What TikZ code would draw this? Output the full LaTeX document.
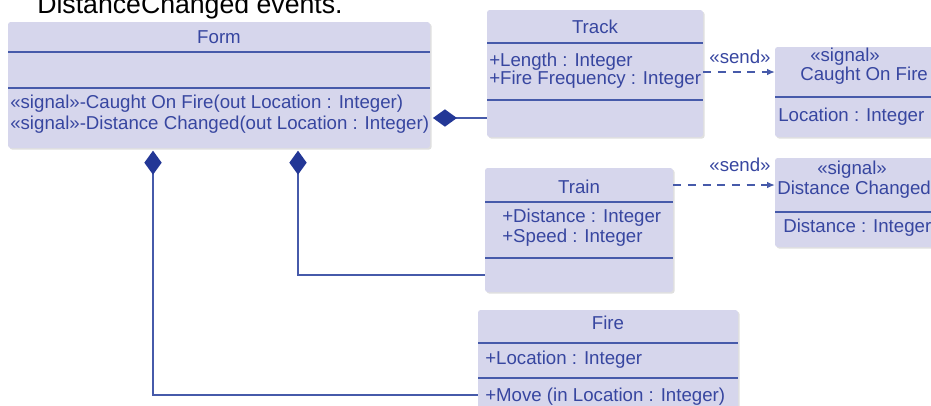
\documentclass[tikz,border=0pt]{standalone}
\usepackage{fontspec}
\setmainfont{Liberation Sans}
\usetikzlibrary{arrows.meta,fit,shadows}
\definecolor{umlfill}{RGB}{214,214,236}
\definecolor{umlline}{RGB}{70,90,170}
\definecolor{umltext}{RGB}{55,70,160}
\definecolor{umldark}{RGB}{35,55,150}

\begin{document}
\begin{tikzpicture}[x=0.75pt,y=-0.75pt,
  classbox/.style={fill=umlfill,rounded corners=2pt,inner sep=0pt,
    drop shadow={shadow xshift=1.2pt,shadow yshift=-1.2pt,opacity=0.25}},
  sep/.style={umlline,line width=1.7pt},
  txt/.style={text=umltext,font=\fontsize{14}{16}\selectfont,inner sep=0pt},
  comp/.style={umlline,line width=1.8pt,shorten <=2pt,
    {Diamond[length=18pt,width=13pt,color=umldark,fill=umldark]}-},
  send/.style={umlline,line width=1.4pt,dash pattern=on 6pt off 5pt,
    -{Latex[length=6pt,width=5pt]}}]
\useasboundingbox (0,0) rectangle (931,405);

% caption cut by the page edge
\node[anchor=base west,font=\fontsize{20}{24}\selectfont,inner sep=0pt] (caption) at (37,13) {DistanceChanged events.};

% Form
\node[classbox,fit={(8,22) (430,148)}] (form) {};
\draw[sep] (8,52) -- (430,52);
\draw[sep] (8,88) -- (430,88);
\node[txt] (form-name) at (219,37) {Form};
\node[txt,anchor=west] (form-op1) at (10,104) {«signal»-Caught On Fire(out Location : Integer)};
\node[txt,anchor=west] (form-op2) at (10,125) {«signal»-Distance Changed(out Location : Integer)};

% Track
\node[classbox,fit={(487,10) (703,137)}] (track) {};
\draw[sep] (487,43) -- (703,43);
\draw[sep] (487,100) -- (703,100);
\node[txt] (track-name) at (595,27) {Track};
\node[txt,anchor=west] (track-at1) at (489,62) {+Length : Integer};
\node[txt,anchor=west] (track-at2) at (489,80) {+Fire Frequency : Integer};

% signal: Caught On Fire
\node[classbox,fit={(775,47) (960,137)}] (caught) {};
\draw[sep] (775,97) -- (960,97);
\node[txt,anchor=west] (caught-st) at (810,57) {«signal»};
\node[txt,anchor=west] (caught-name) at (800,76) {Caught On Fire};
\node[txt,anchor=west] (caught-at) at (778,117) {Location : Integer};

% Train
\node[classbox,fit={(485,168) (673,292)}] (train) {};
\draw[sep] (485,202) -- (673,202);
\draw[sep] (485,258) -- (673,258);
\node[txt] (train-name) at (579,187) {Train};
\node[txt,anchor=west] (train-at1) at (502,218) {+Distance : Integer};
\node[txt,anchor=west] (train-at2) at (502,238) {+Speed : Integer};

% signal: Distance Changed
\node[classbox,fit={(775,158) (960,247)}] (distchg) {};
\draw[sep] (775,212) -- (960,212);
\node[txt,anchor=west] (distchg-st) at (817,170) {«signal»};
\node[txt,anchor=west] (distchg-name) at (777,190) {Distance Changed};
\node[txt,anchor=west] (distchg-at) at (783,228) {Distance : Integer};

% Fire
\node[classbox,fit={(478,310) (738,420)}] (fire) {};
\draw[sep] (478,343) -- (738,343);
\draw[sep] (478,378) -- (738,378);
\node[txt] (fire-name) at (608,323) {Fire};
\node[txt,anchor=west] (fire-at) at (485,360) {+Location : Integer};
\node[txt,anchor=west] (fire-op) at (485,397) {+Move (in Location : Integer)};

% composition
\coordinate (track-in) at (487,118);
\coordinate (train-in) at (485,275);
\coordinate (fire-in) at (478,395);
\coordinate (form-a) at (153,148);
\coordinate (form-b) at (298,148);
\draw[comp] (form.east |- track-in) -- (track-in);
\draw[comp] (form-b) |- (train-in);
\draw[comp] (form-a) |- (fire-in);

% send
\coordinate (caught-in) at (775,72);
\coordinate (distchg-in) at (775,185);
\draw[send] (track.east |- caught-in) -- (caught-in);
\draw[send] (train.east |- distchg-in) -- (distchg-in);
\node[txt] (send1) at (740,57) {«send»};
\node[txt] (send2) at (740,165) {«send»};
\end{tikzpicture}
\end{document}
